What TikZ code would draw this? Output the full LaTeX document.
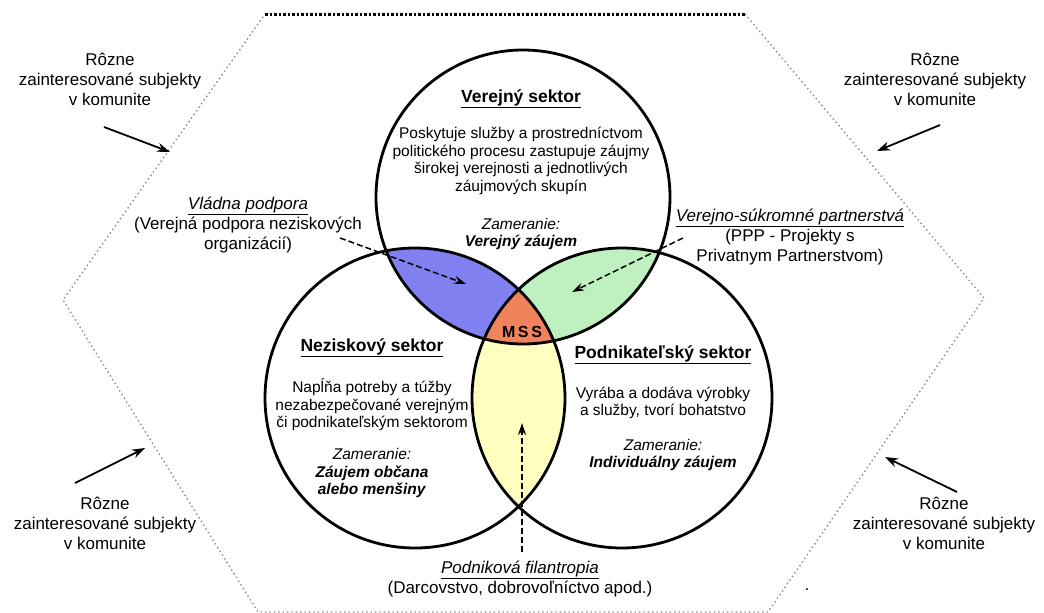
\documentclass[tikz,border=0pt]{standalone}
\usepackage{fontspec}
\setmainfont{Liberation Sans}
\usetikzlibrary{arrows.meta}
\definecolor{blueL}{RGB}{128,128,240}
\definecolor{greenL}{RGB}{190,240,192}
\definecolor{yellowL}{RGB}{255,255,192}
\definecolor{orangeL}{RGB}{240,130,92}
\begin{document}
\begin{tikzpicture}[x=1pt,y=-1pt,
  ring/.style={line width=2.8pt},
  body/.style={align=center,font=\fontsize{15.5}{17.5}\selectfont,inner sep=0pt},
  head/.style={align=center,font=\fontsize{17.5}{20}\selectfont\bfseries,inner sep=0pt},
  lab/.style={align=center,font=\fontsize{17}{20}\selectfont,inner sep=0pt},
  darr/.style={line width=1.5pt,dash pattern=on 6pt off 3pt,-{Stealth[length=12pt,width=8pt]}},
  sarr/.style={line width=1.8pt,-{Stealth[length=13pt,width=9pt]}},
  hexedge/.style={draw=black!45,line width=1.4pt,dash pattern=on 1.4pt off 3pt},
  topedge/.style={draw=black,line width=3pt,dash pattern=on 2.5pt off 2pt},
]
\useasboundingbox (0,0) rectangle (1044,613);
\fill[white] (0,0) rectangle (1044,613);

% hexagon frame
\coordinate (h1) at (265,14);
\coordinate (h2) at (745,14);
\coordinate (h3) at (984,298);
\coordinate (h4) at (768,612);
\coordinate (h5) at (258,612);
\coordinate (h6) at (63,300);
\draw[hexedge] (h2) -- (h3) -- (h4) -- (h5) -- (h6) -- (h1);
\draw[topedge] (h1) -- (h2);

% lens fills
\begin{scope}
  \clip (523,197) circle[radius=147pt];
  \fill[blueL] (415,398) circle[radius=150pt];
  \fill[greenL] (622,398) circle[radius=150pt];
\end{scope}
\begin{scope}
  \clip (415,398) circle[radius=150pt];
  \fill[yellowL] (622,398) circle[radius=150pt];
\end{scope}
\begin{scope}
  \clip (523,197) circle[radius=147pt];
  \clip (415,398) circle[radius=150pt];
  \fill[orangeL] (622,398) circle[radius=150pt];
\end{scope}

% circles
\draw[ring] (523,197) circle[radius=147pt];
\draw[ring] (415,398) circle[radius=150pt];
\draw[ring] (622,398) circle[radius=150pt];

% top circle texts
\node[head] (vsh) at (521,99) {\underline{Verejný sektor}};
\node[body] (vsb) at (521,161) {Poskytuje služby a prostredníctvom\\politického procesu zastupuje záujmy\\širokej verejnosti a jednotlivých\\záujmových skupín};
\node[body] (vsz) at (521,234) {\textit{Zameranie:}\\\textit{\textbf{Verejný záujem}}};

% left circle texts
\node[head] (nsh) at (372,348) {\underline{Neziskový sektor}};
\node[body] (nsb) at (372,405) {Napĺňa potreby a túžby\\nezabezpečované verejným\\či podnikateľským sektorom};
\node[body] (nsz) at (372,473) {\textit{Zameranie:}\\\textit{\textbf{Záujem občana}}\\\textit{\textbf{alebo menšiny}}};

% right circle texts
\node[head] (psh) at (663,355) {\underline{Podnikateľský sektor}};
\node[body] (psb) at (663,403) {Vyrába a dodáva výrobky\\a služby, tvorí bohatstvo};
\node[body] (psz) at (663,455) {\textit{Zameranie:}\\\textit{\textbf{Individuálny záujem}}};

% MSS
\node[font=\fontsize{16}{18}\selectfont\bfseries,inner sep=0pt] (mss) at (522,332) {M\,S\,S};

% intersection labels
\node[lab] (vp) at (248,225) {\underline{\textit{Vládna podpora}}\\(Verejná podpora neziskových\\organizácií)};
\node[lab] (ppp) at (790,237) {\underline{\textit{Verejno-súkromné partnerstvá}}\\(PPP - Projekty s\\Privatnym Partnerstvom)};
\node[lab] (pf) at (520,579) {\underline{\textit{Podniková filantropia}}\\(Darcovstvo, dobrovoľníctvo apod.)};

% dashed arrows
\coordinate (vpS) at (340,238);
\coordinate (vpE) at (466,284);
\draw[darr] (vpS) -- (vpE);
\coordinate (pppS) at (683,238);
\coordinate (pppE) at (572,292);
\draw[darr] (pppS) -- (pppE);
\coordinate (pfS) at (522,552);
\coordinate (pfE) at (522,423);
\draw[darr] (pfS) -- (pfE);

% stakeholders
\node[lab] (s1) at (110,79) {Rôzne\\zainteresované subjekty\\v komunite};
\node[lab] (s2) at (935,79) {Rôzne\\zainteresované subjekty\\v komunite};
\node[lab] (s3) at (105,523) {Rôzne\\zainteresované subjekty\\v komunite};
\node[lab] (s4) at (944,523) {Rôzne\\zainteresované subjekty\\v komunite};

\coordinate (a1s) at (104,127); \coordinate (a1e) at (170,152);
\coordinate (a2s) at (940,125); \coordinate (a2e) at (877,151);
\coordinate (a3s) at (75,483);  \coordinate (a3e) at (145,448);
\coordinate (a4s) at (957,492); \coordinate (a4e) at (885,457);
\draw[sarr] (a1s) -- (a1e);
\draw[sarr] (a2s) -- (a2e);
\draw[sarr] (a3s) -- (a3e);
\draw[sarr] (a4s) -- (a4e);

\node[lab,anchor=base] (dot) at (807,590) {.};
\end{tikzpicture}
\end{document}
